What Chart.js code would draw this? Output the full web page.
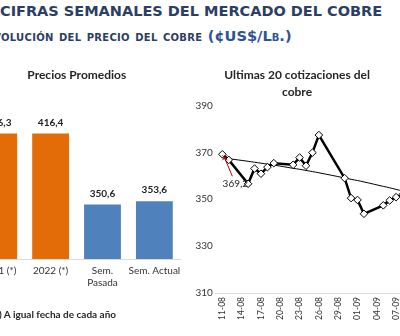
<!DOCTYPE html>
<html>
<head>
<meta charset="utf-8">
<script src="https://cdn.jsdelivr.net/npm/chart.js@4.4.0/dist/chart.umd.min.js"></script>
<style>
  html, body { margin: 0; padding: 0; background: #fff; }
  body { width: 400px; height: 336px; position: relative; overflow: hidden; font-family: Lato, sans-serif; }
  .head1 { position: absolute; left: 0; top: 3px; white-space: nowrap; font: bold 14.5px "DejaVu Sans", sans-serif; color: #2b3e63; }
  .head2 { position: absolute; left: -20px; top: 27px; white-space: nowrap; font: bold 14.4px "DejaVu Sans", sans-serif; font-variant: small-caps; letter-spacing: 0.3px; color: #2b3e63; }
  .head2 .unit { color: #2f5496; font-size: 14.6px; letter-spacing: 0; }
  .note { position: absolute; left: -8px; top: 308px; white-space: nowrap; font: bold 10px Lato, sans-serif; color: #262626; }
  #barWrap { position: absolute; left: -35px; top: 60px; width: 222px; height: 249px; }
  #lineWrap { position: absolute; left: 185px; top: 60px; width: 245px; height: 263px; }
</style>
</head>
<body>
<div class="head1">CIFRAS SEMANALES DEL MERCADO DEL COBRE</div>
<div class="head2" id="head2"><span id="cut">Ev</span>olución del precio del cobre <span class="unit">(¢US$/Lb.)</span></div>
<div id="barWrap"><canvas id="barChart"></canvas></div>
<div id="lineWrap"><canvas id="lineChart"></canvas></div>
<div class="note">(*) A igual fecha de cada año</div>

<script>
// --- DATA ---
const barLabels = ['2021 (*)', '2022 (*)', ['Sem.', 'Pasada'], 'Sem. Actual'];
const barValues = [416.3, 416.4, 350.6, 353.6];
const barColors = ['#e36c09', '#e36c09', '#4f81bd', '#4f81bd'];

const quoteDates = ['11-08', '12-08', '15-08', '16-08', '17-08', '18-08', '19-08', '22-08', '23-08', '24-08',
                    '25-08', '26-08', '30-08', '31-08', '01-09', '02-09', '05-09', '06-09', '07-09', '08-09'];
const quoteValues = [369.2, 366.8, 356.6, 363.1, 360.9, 363.7, 365.4, 364.7, 367.8, 364.3,
                     369.9, 377.4, 359.0, 350.5, 349.7, 343.8, 347.4, 349.5, 350.9, 352.0];
// polynomial trend line
const trendValues = [367.6, 367.3, 366.2, 365.8, 365.4, 365.0, 364.6, 363.2, 362.8, 362.3,
                     361.8, 361.3, 359.1, 358.5, 358.0, 357.4, 355.5, 354.9, 354.2, 353.5];
const tickLabels = ['11-08', '14-08', '17-08', '20-08', '23-08', '26-08', '29-08', '01-09', '04-09', '07-09'];

// --- HELPERS ---
const fmt = v => v.toFixed(1).replace('.', ',');

// day offset from first date (dd-mm, year 2022)
const dayOf = (s) => {
    const [d, m] = s.split('-').map(Number);
    return Math.round((Date.UTC(2022, m - 1, d) - Date.UTC(2022, 7, 11)) / 86400000);
};

// shift the second heading so that "Ev" is cut off like in the original
const cut = document.getElementById('cut');
document.getElementById('head2').style.left = (-cut.offsetWidth + 1) + 'px';

Chart.defaults.font.family = 'Lato, sans-serif';
Chart.defaults.color = '#333';

// bar value labels
const barLabelPlugin = {
    id: 'barLabels',
    afterDatasetsDraw(chart) {
        const ctx = chart.ctx;
        ctx.save();
        ctx.font = 'bold 10px Lato, sans-serif';
        ctx.fillStyle = '#222';
        ctx.textAlign = 'center';
        ctx.textBaseline = 'middle';
        chart.getDatasetMeta(0).data.forEach((bar, i) => {
            ctx.fillText(fmt(barValues[i]), bar.x, bar.y - 11);
        });
        ctx.restore();
    }
};

// --- LEFT: Precios Promedios ---
new Chart(document.getElementById('barChart'), {
    type: 'bar',
    data: {
        labels: barLabels,
        datasets: [{
            data: barValues,
            backgroundColor: barColors,
            categoryPercentage: 1,
            barPercentage: 0.71
        }]
    },
    options: {
        responsive: true,
        maintainAspectRatio: false,
        animation: false,
        layout: { padding: { left: 7.8, right: 6.2, top: 0, bottom: 0 } },
        plugins: {
            legend: { display: false },
            tooltip: { enabled: false },
            title: {
                display: true,
                text: 'Precios Promedios',
                color: '#262626',
                font: { size: 12, weight: 'bold' },
                padding: { top: 8, bottom: 14.8 }
            }
        },
        scales: {
            y: { display: false, min: 300, max: 450 },
            x: {
                grid: { display: false, drawTicks: false },
                border: { display: true, color: '#d9d9d9' },
                ticks: { font: { size: 10 }, color: '#333', padding: 6, maxRotation: 0, autoSkip: false },
                afterFit: (scale) => { scale.height = 50; }
            }
        }
    },
    plugins: [barLabelPlugin]
});

// first-point label with red leader line
const firstLabelPlugin = {
    id: 'firstLabel',
    afterDatasetsDraw(chart) {
        const el = chart.getDatasetMeta(0).data[0];
        if (!el) return;
        const ctx = chart.ctx;
        ctx.save();
        ctx.strokeStyle = '#c00000';
        ctx.lineWidth = 1;
        ctx.beginPath();
        ctx.moveTo(el.x + 2, el.y + 3);
        ctx.lineTo(el.x + 10, el.y + 22);
        ctx.moveTo(el.x, el.y + 1);
        ctx.lineTo(el.x + 5, el.y + 6);
        ctx.moveTo(el.x + 5, el.y + 1);
        ctx.lineTo(el.x, el.y + 6);
        ctx.stroke();
        ctx.font = '10px Lato, sans-serif';
        ctx.fillStyle = '#262626';
        ctx.textAlign = 'center';
        ctx.textBaseline = 'middle';
        ctx.fillText(fmt(quoteValues[0]), el.x + 13, el.y + 30);
        ctx.restore();
    }
};

// --- RIGHT: Ultimas 20 cotizaciones ---
const quotePoints = quoteDates.map((d, i) => ({ x: dayOf(d), y: quoteValues[i] }));
const trendPoints = quoteDates.map((d, i) => ({ x: dayOf(d), y: trendValues[i] }));
const tickDays = tickLabels.map(dayOf);

new Chart(document.getElementById('lineChart'), {
    type: 'line',
    data: {
        datasets: [{
            data: quotePoints,
            borderColor: '#000',
            borderWidth: 2.5,
            pointStyle: 'rectRot',
            pointRadius: 3.8,
            pointBackgroundColor: '#fff',
            pointBorderColor: '#000',
            pointBorderWidth: 1,
            tension: 0
        }, {
            data: trendPoints,
            borderColor: '#000',
            borderWidth: 1,
            pointRadius: 0,
            tension: 0.4
        }]
    },
    options: {
        responsive: true,
        maintainAspectRatio: false,
        animation: false,
        layout: { padding: { left: 0, right: 21, top: 0, bottom: 0 } },
        plugins: {
            legend: { display: false },
            tooltip: { enabled: false },
            title: {
                display: true,
                text: ['Ultimas 20 cotizaciones del', 'cobre'],
                color: '#262626',
                font: { size: 12, weight: 'bold', lineHeight: 1.417 },
                padding: { top: 6.5, bottom: 5 }
            }
        },
        scales: {
            x: {
                type: 'linear',
                min: -1,
                max: 29,
                grid: { display: false, drawTicks: false },
                border: { display: true, color: '#d9d9d9' },
                afterBuildTicks: (scale) => { scale.ticks = tickDays.map(v => ({ value: v })); },
                ticks: {
                    autoSkip: false,
                    minRotation: 90,
                    maxRotation: 90,
                    padding: 4,
                    font: { size: 8.5 },
                    color: '#333',
                    callback: (v) => tickLabels[tickDays.indexOf(v)]
                },
                afterFit: (scale) => { scale.height = 30; }
            },
            y: {
                min: 310,
                max: 390,
                grid: { display: false, drawTicks: false },
                border: { display: false },
                ticks: { stepSize: 20, padding: 3, font: { size: 10 }, color: '#333' },
                afterFit: (scale) => { scale.width = 30.9; }
            }
        }
    },
    plugins: [firstLabelPlugin]
});
</script>
</body>
</html>
